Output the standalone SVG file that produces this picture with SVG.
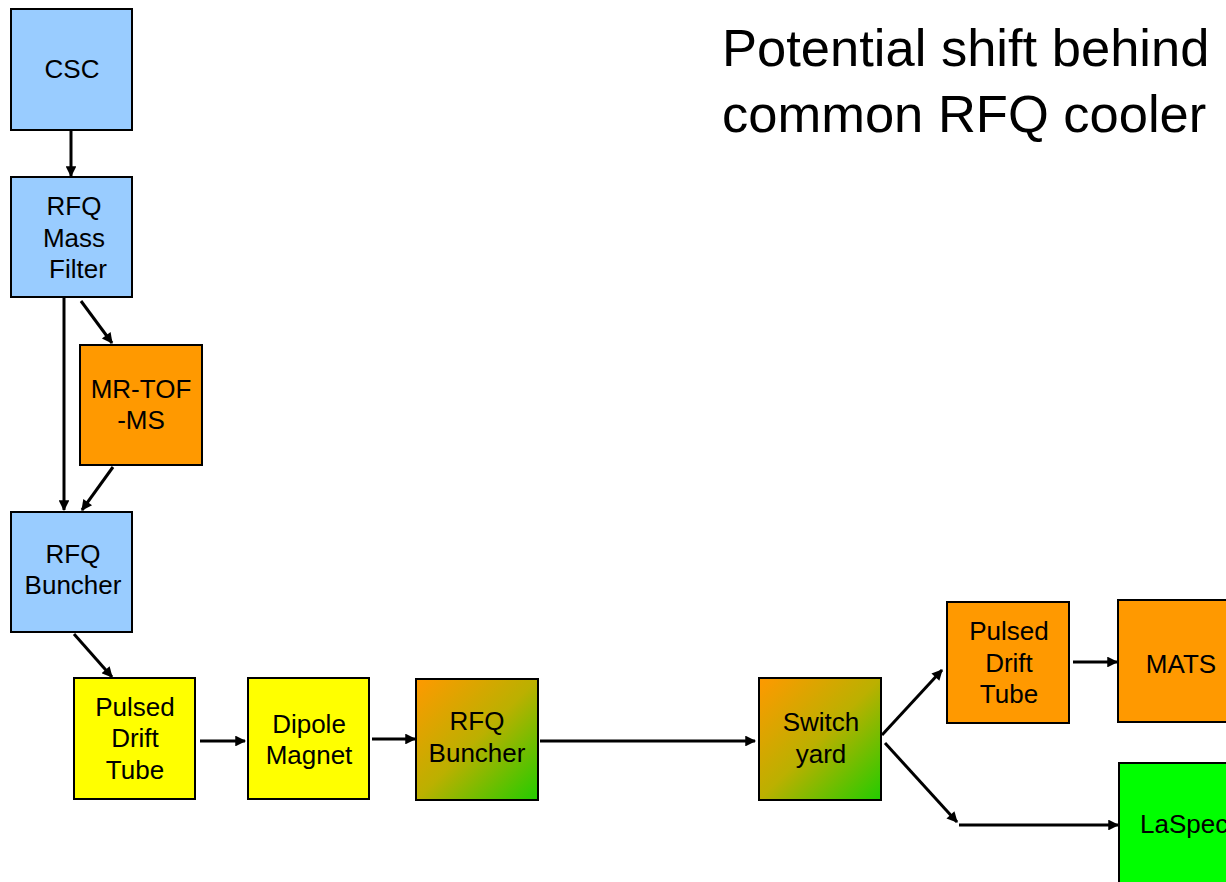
<svg xmlns="http://www.w3.org/2000/svg" width="1226" height="882" viewBox="0 0 1226 882">
  <style>
    .box { stroke: #000; stroke-width: 2; }
    .blue { fill: #99CCFF; }
    .orange { fill: #FF9900; }
    .yellow { fill: #FFFF00; }
    .green { fill: #00FF00; }
    .mix { fill: url(#orangeGreen); }
    .lbl { font-family: "Liberation Sans", Arial, sans-serif; font-size: 26px; fill: #000; text-anchor: middle; }
    .title { font-family: "Liberation Sans", Arial, sans-serif; font-size: 52.5px; fill: #000; }
    .conn line { stroke: #000; stroke-width: 3; }
    .conn .arr { marker-end: url(#head); }
  </style>
  <defs>
    <linearGradient id="orangeGreen" x1="0" y1="0" x2="1" y2="1">
      <stop offset="0" stop-color="#FF9900"/>
      <stop offset="0.5" stop-color="#BBB000"/>
      <stop offset="1" stop-color="#22CC00"/>
    </linearGradient>
    <marker id="head" viewBox="0 0 10 10" refX="9" refY="5" markerWidth="4.4" markerHeight="3.6" orient="auto" markerUnits="strokeWidth">
      <path d="M0,0 L10,5 L0,10 z" fill="#000"/>
    </marker>
  </defs>

  <rect width="1226" height="882" fill="#fff"/>

  <!-- heading -->
  <g id="title">
    <text class="title" x="722" y="66">Potential shift behind</text>
    <text class="title" x="722" y="132">common RFQ cooler</text>
  </g>

  <!-- connectors -->
  <g id="connectors" class="conn">
    <line class="arr" x1="71" y1="131" x2="71" y2="176"/>
    <line class="arr" x1="64" y1="298" x2="64" y2="510"/>
    <line class="arr" x1="81" y1="301" x2="112" y2="343"/>
    <line class="arr" x1="113" y1="467" x2="82" y2="510"/>
    <line class="arr" x1="74" y1="634" x2="112" y2="677"/>
    <line class="arr" x1="200" y1="741" x2="245" y2="741"/>
    <line class="arr" x1="372" y1="739" x2="415" y2="739"/>
    <line class="arr" x1="540" y1="741" x2="755" y2="741"/>
    <line class="arr" x1="882" y1="735" x2="942" y2="670"/>
    <line class="arr" x1="885" y1="743" x2="957" y2="822"/>
    <line class="arr" x1="959" y1="825" x2="1118" y2="825"/>
    <line class="arr" x1="1073" y1="662" x2="1117" y2="662"/>
  </g>

  <g id="csc">
    <rect class="box blue" x="11" y="9" width="121" height="121"/>
    <text class="lbl" x="72" y="78">CSC</text>
  </g>

  <g id="rfq-mass-filter">
    <rect class="box blue" x="11" y="177" width="121" height="120"/>
    <text class="lbl" x="74" y="215">RFQ</text>
    <text class="lbl" x="74" y="247">Mass</text>
    <text class="lbl" x="78" y="278">Filter</text>
  </g>

  <g id="mr-tof-ms">
    <rect class="box orange" x="80" y="345" width="122" height="120"/>
    <text class="lbl" x="141" y="398">MR-TOF</text>
    <text class="lbl" x="141" y="429">-MS</text>
  </g>

  <g id="rfq-buncher-1">
    <rect class="box blue" x="11" y="512" width="121" height="120"/>
    <text class="lbl" x="73" y="563">RFQ</text>
    <text class="lbl" x="73" y="594">Buncher</text>
  </g>

  <g id="pulsed-drift-tube-1">
    <rect class="box yellow" x="74" y="678" width="121" height="121"/>
    <text class="lbl" x="135" y="716">Pulsed</text>
    <text class="lbl" x="135" y="747">Drift</text>
    <text class="lbl" x="135" y="779">Tube</text>
  </g>

  <g id="dipole-magnet">
    <rect class="box yellow" x="248" y="678" width="121" height="121"/>
    <text class="lbl" x="309" y="733">Dipole</text>
    <text class="lbl" x="309" y="764">Magnet</text>
  </g>

  <g id="rfq-buncher-2">
    <rect class="box mix" x="416" y="679" width="122" height="121"/>
    <text class="lbl" x="477" y="730">RFQ</text>
    <text class="lbl" x="477" y="762">Buncher</text>
  </g>

  <g id="switch-yard">
    <rect class="box mix" x="759" y="678" width="122" height="122"/>
    <text class="lbl" x="821" y="731">Switch</text>
    <text class="lbl" x="821" y="763">yard</text>
  </g>

  <g id="pulsed-drift-tube-2">
    <rect class="box orange" x="947" y="602" width="122" height="121"/>
    <text class="lbl" x="1009" y="640">Pulsed</text>
    <text class="lbl" x="1009" y="672">Drift</text>
    <text class="lbl" x="1009" y="703">Tube</text>
  </g>

  <g id="mats">
    <rect class="box orange" x="1118" y="600" width="122" height="122"/>
    <text class="lbl" x="1181" y="673">MATS</text>
  </g>

  <g id="laspec">
    <rect class="box green" x="1119" y="763" width="122" height="122"/>
    <text class="lbl" x="1140" y="833" style="text-anchor:start">LaSpec</text>
  </g>
</svg>
